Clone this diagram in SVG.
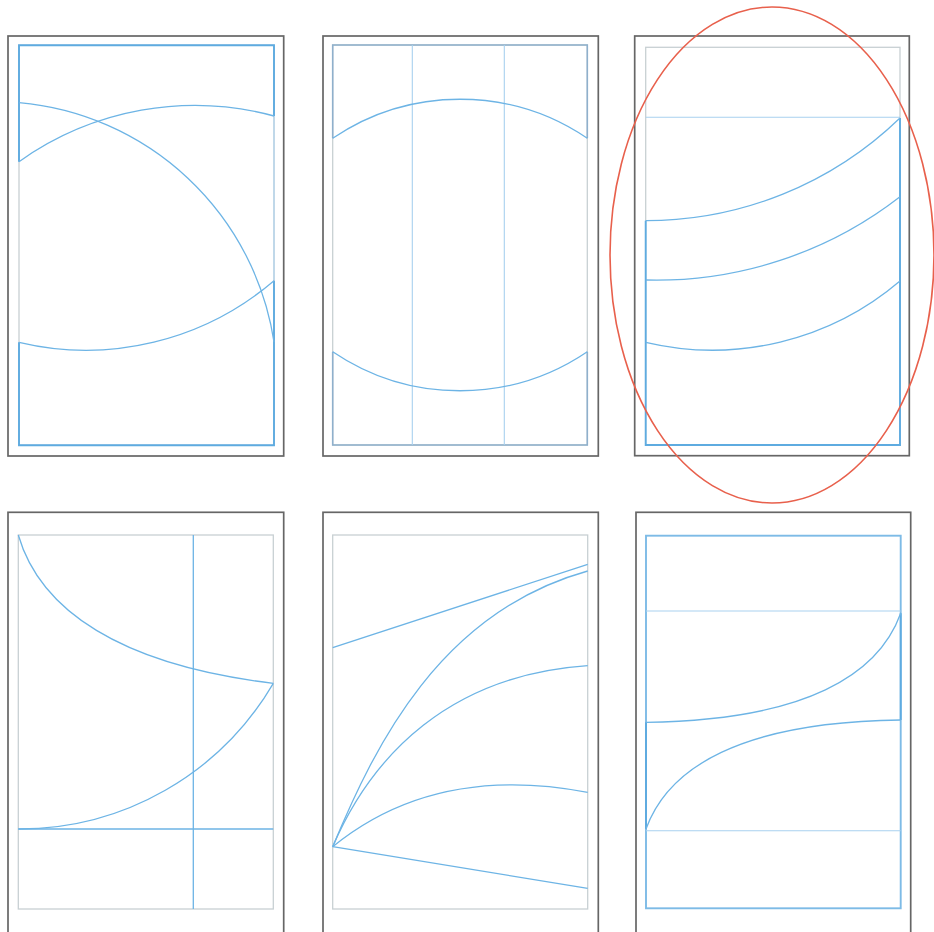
<svg xmlns="http://www.w3.org/2000/svg" width="934" height="932" viewBox="0 0 934 932">
<style>
.frame{fill:none;stroke:#666666;stroke-width:1.7}
.page{fill:none;stroke:#c8d0d3;stroke-width:1.3}
.blue{fill:none;stroke:#6db4e5;stroke-width:1.3}
.bluebold{fill:none;stroke:#5eabe0;stroke-width:1.9}
.light{fill:none;stroke:#a9d1ef;stroke-width:1.1}
.steel{fill:none;stroke:#8fb0cc;stroke-width:1.6}
</style>
<rect width="934" height="932" fill="#ffffff"/>

<g id="panel1">
  <rect class="frame" x="8" y="36" width="275.7" height="420"/>
  <rect class="page" x="19" y="45.3" width="255" height="400"/>
  <path class="light" d="M274,116 L274,280.7"/>
  <path class="bluebold" d="M19,161.7 L19,45.3 L274,45.3 L274,116"/>
  <path class="bluebold" d="M19,342.3 L19,445.3 L274,445.3 L274,280.7 L274,342"/>
  <path class="blue" d="M19,102.7 A283,283 0 0 1 274,342"/>
  <path class="blue" d="M19,161.7 A303,303 0 0 1 274,116"/>
  <path class="blue" d="M19,342.3 A289,289 0 0 0 274,280.7"/>
</g>

<g id="panel2">
  <rect class="frame" x="323" y="36" width="275.3" height="420"/>
  <rect class="page" x="332.7" y="45" width="254.6" height="400"/>
  <path class="steel" d="M332.7,138.3 L332.7,45 L587.3,45 L587.3,138.3"/>
  <path class="steel" d="M332.7,351.7 L332.7,445 L587.3,445 L587.3,351.7"/>
  <path class="light" d="M412.3,45 L412.3,445 M504.3,45 L504.3,445"/>
  <path class="blue" d="M332.7,138.3 A227,227 0 0 1 587.3,138.3"/>
  <path class="blue" d="M332.7,351.7 A227,227 0 0 0 587.3,351.7"/>
</g>

<g id="panel3">
  <rect class="frame" x="634.7" y="36" width="274.6" height="419.7"/>
  <rect class="page" x="645.7" y="47.3" width="254.3" height="397.7"/>
  <path class="light" d="M645.7,117.3 L900,117.3"/>
  <path class="bluebold" d="M645.7,220.7 L645.7,445 L900,445 L900,118"/>
  <path class="blue" d="M645.7,220.7 A365,365 0 0 0 900,118"/>
  <path class="blue" d="M645.7,280 A397,397 0 0 0 900,196.7"/>
  <path class="blue" d="M645.7,342.3 A289,289 0 0 0 900,281"/>
</g>

<g id="highlight">
  <ellipse cx="772" cy="255" rx="162" ry="248" fill="none" stroke="#e8604c" stroke-width="1.6"/>
</g>

<g id="panel4">
  <rect class="frame" x="8" y="512.3" width="275.7" height="421"/>
  <rect class="page" x="18.3" y="535" width="255" height="374"/>
  <path class="blue" d="M193.3,535 L193.3,909 M18.3,829 L273.3,829"/>
  <path class="blue" d="M18.3,535 C40,610 120,665 273.3,683.3"/>
  <path class="blue" d="M18.3,829 A294,294 0 0 0 273.3,683.3"/>
</g>

<g id="panel5">
  <rect class="frame" x="323" y="512.3" width="275.3" height="421"/>
  <rect class="page" x="332.7" y="535" width="255" height="374"/>
  <path class="blue" d="M332.7,647.7 L587.7,564.3"/>
  <path class="blue" d="M332.7,846.7 L587.7,888.3"/>
  <path class="blue" d="M332.7,846.7 C375,745 440,612 587.7,571"/>
  <path class="blue" d="M332.7,846.7 C372,755 450,675 587.7,665.7"/>
  <path class="blue" d="M332.7,846.7 C390,800 470,770 587.7,792.3"/>
</g>

<g id="panel6">
  <rect class="frame" x="636" y="512.3" width="274.7" height="421"/>
  <rect x="646" y="535.7" width="254.7" height="372.6" fill="none" stroke="#7dbbe6" stroke-width="1.9"/>
  <path class="light" d="M646,611 L900.7,611 M646,830.7 L900.7,830.7"/>
  <path class="bluebold" d="M646,722.3 L646,829 M900.7,613.3 L900.7,720"/>
  <path class="blue" d="M646,722.3 C806.7,720.3 878.7,674.3 900.7,613.3"/>
  <path class="blue" d="M646,829 C668,768 740,722 900.7,720"/>
</g>
</svg>
